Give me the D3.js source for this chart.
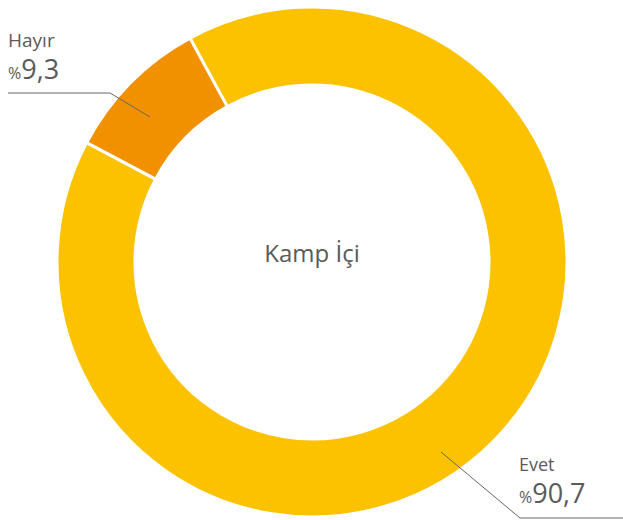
<!DOCTYPE html>
<html>
<head>
<meta charset="utf-8">
<script src="https://cdn.jsdelivr.net/npm/d3@7"></script>
<style>
  body { margin: 0; background: #fff; }
  svg { display: block; font-family: "Open Sans", "Noto Sans", sans-serif; }
</style>
</head>
<body>
<svg id="chart" width="623" height="520"></svg>
<script>
var categories = ["Evet", "Hayır"];
var values = [90.7, 9.3];
var valueLabels = ["90,7", "9,3"];
var centerTitle = "Kamp İçi";

var colors = d3.scaleOrdinal().domain(categories).range(["#FCC200", "#F29100"]);

var svg = d3.select("svg#chart");
var cx = 312, cy = 262;
var outerR = 255, innerR = 177;

var data = categories.map((c, i) => ({name: c, value: values[i], label: valueLabels[i]}));

// start at the Evet/Hayır boundary near the top, clockwise
var start = -28.6 * Math.PI / 180;
var pie = d3.pie().value(d => d.value).sort(null)
    .startAngle(start).endAngle(start + 2 * Math.PI);
var arc = d3.arc().innerRadius(innerR).outerRadius(outerR);

var g = svg.append("g").attr("transform", "translate(" + cx + "," + cy + ")");

g.selectAll("path.slice")
    .data(pie(data))
    .enter()
    .append("path")
    .attr("class", "slice")
    .attr("d", arc)
    .attr("fill", d => colors(d.data.name))
    .attr("stroke", "#fff")
    .attr("stroke-width", 3);

g.append("text")
    .attr("text-anchor", "middle")
    .attr("y", 0)
    .attr("font-size", 24)
    .attr("fill", "#5a5a5a")
    .text(centerTitle);

// leader lines + labels
var lineColor = "#666";
svg.append("polyline")
    .attr("points", "8,93 110,93 150,117")
    .attr("fill", "none").attr("stroke", lineColor).attr("stroke-width", 1);
svg.append("polyline")
    .attr("points", "441,452 520,518 623,518")
    .attr("fill", "none").attr("stroke", lineColor).attr("stroke-width", 1);

function label(x, y, d, nameSize) {
    var t = svg.append("g").attr("transform", "translate(" + x + "," + y + ")")
        .attr("fill", "#5a5a5a");
    t.append("text").attr("font-size", nameSize).text(d.name);
    var v = t.append("text").attr("y", 32);
    v.append("tspan").attr("font-size", 16).text("%");
    v.append("tspan").attr("font-size", 27).text(d.label);
}
label(8, 47, data[1], 19);
label(519, 471, data[0], 18);
</script>
</body>
</html>
